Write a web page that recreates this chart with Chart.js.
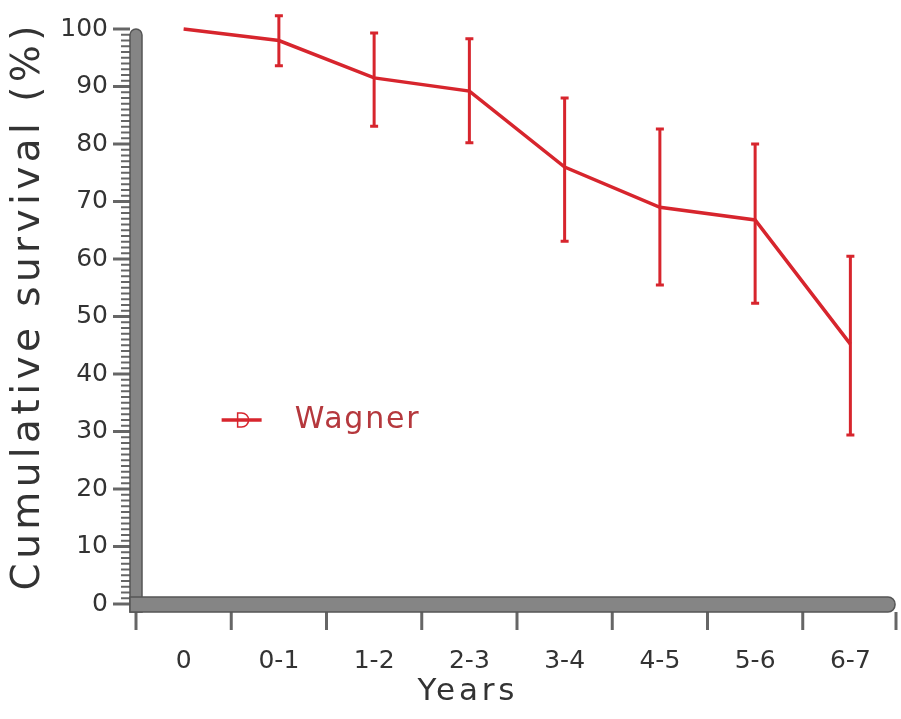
<!DOCTYPE html>
<html>
<head>
<meta charset="utf-8">
<script src="https://cdn.jsdelivr.net/npm/chart.js@4.4.1/dist/chart.umd.min.js"></script>
<style>
  html, body { margin: 0; padding: 0; background: #fff; }
  #wrap { width: 901px; height: 719px; }
</style>
</head>
<body>
<div id="wrap"><canvas id="survivalChart" width="901" height="719"></canvas></div>
<script>
// values
const years = ['0', '0-1', '1-2', '2-3', '3-4', '4-5', '5-6', '6-7'];
const survival = [100, 98, 91.5, 89.2, 76, 69, 66.8, 45.2];
const errLow = [100, 93.6, 83.1, 80.2, 63.1, 55.5, 52.3, 29.4];
const errHigh = [100, 102.3, 99.3, 98.3, 88, 82.6, 80, 60.5];
const seriesName = 'Wagner';
const yTitle = 'Cumulative survival (%)';
const xTitle = 'Years';

const RED = '#d7252d';
const AXIS_GRAY = '#858585';
const AXIS_DARK = '#555';
const TEXT = '#333';
const FONT = "'DejaVu Sans', sans-serif";

// draws text with letter spacing so it fills a given length
function spacedText(ctx, text, cx, cy, len) {
    ctx.letterSpacing = '0px';
    const w = ctx.measureText(text).width;
    const sp = Math.max(0, (len - w) / (text.length - 1));
    ctx.letterSpacing = sp + 'px';
    ctx.textAlign = 'left';
    ctx.textBaseline = 'middle';
    ctx.fillText(text, cx - len / 2, cy);
    ctx.letterSpacing = '0px';
}

// error bars, axis bars, ticks, titles and in-plot legend
const decorPlugin = {
    id: 'decor',
    beforeDatasetsDraw(chart) {
        const { ctx, chartArea: a, scales: { x, y } } = chart;
        ctx.save();
        // minor / major y ticks
        ctx.strokeStyle = '#666';
        for (let v = 0; v <= 100; v++) {
            const py = y.getPixelForValue(v);
            ctx.lineWidth = v % 10 === 0 ? 3 : 2;
            ctx.beginPath();
            ctx.moveTo(v % 10 === 0 ? a.left - 23 : a.left - 15, py);
            ctx.lineTo(a.left - 6, py);
            ctx.stroke();
        }
        // x ticks at category boundaries
        ctx.lineWidth = 3;
        const step = (a.right - a.left) / years.length;
        for (let i = 0; i <= years.length; i++) {
            const px = Math.min(a.left + i * step, a.right - 2);
            ctx.beginPath();
            ctx.moveTo(px, a.bottom + 8);
            ctx.lineTo(px, a.bottom + 26);
            ctx.stroke();
        }
        // thick axis bars
        ctx.fillStyle = AXIS_GRAY;
        ctx.strokeStyle = AXIS_DARK;
        ctx.lineWidth = 1.5;
        ctx.beginPath();
        ctx.roundRect(a.left - 6, a.top, 12, a.bottom - a.top + 8, [6, 6, 0, 0]);
        ctx.fill();
        ctx.stroke();
        ctx.beginPath();
        ctx.roundRect(a.left - 6, a.bottom - 7, a.right - a.left + 3, 15, [0, 7, 7, 0]);
        ctx.fill();
        ctx.stroke();

        // axis titles
        ctx.fillStyle = TEXT;
        ctx.font = '31px ' + FONT;
        spacedText(ctx, xTitle, 466, 692, 97);
        ctx.save();
        ctx.translate(29, 308);
        ctx.rotate(-Math.PI / 2);
        ctx.font = '39px ' + FONT;
        spacedText(ctx, yTitle, 0, 0, 565);
        ctx.restore();
        ctx.restore();
    },
    afterDatasetsDraw(chart) {
        const { ctx, scales: { x, y } } = chart;
        ctx.save();
        ctx.strokeStyle = RED;
        ctx.lineWidth = 3;
        years.forEach((lab, i) => {
            if (errHigh[i] === errLow[i]) return;
            const px = x.getPixelForValue(i);
            const top = y.getPixelForValue(errHigh[i]);
            const bot = y.getPixelForValue(errLow[i]);
            ctx.beginPath();
            ctx.moveTo(px, top);
            ctx.lineTo(px, bot);
            ctx.moveTo(px - 4, top);
            ctx.lineTo(px + 4, top);
            ctx.moveTo(px - 4, bot);
            ctx.lineTo(px + 4, bot);
            ctx.stroke();
        });
        // legend inside plot
        const ly = y.getPixelForValue(32);
        const lx = x.getPixelForValue(0) + 38;
        ctx.lineWidth = 3.5;
        ctx.beginPath();
        ctx.moveTo(lx, ly);
        ctx.lineTo(lx + 40, ly);
        ctx.stroke();
        ctx.lineWidth = 1.5;
        ctx.beginPath();
        ctx.moveTo(lx + 16, ly - 7);
        ctx.lineTo(lx + 20, ly - 7);
        ctx.arc(lx + 20, ly, 7, -Math.PI / 2, Math.PI / 2);
        ctx.lineTo(lx + 16, ly + 7);
        ctx.closePath();
        ctx.stroke();
        ctx.fillStyle = '#b5383d';
        ctx.font = '30px ' + FONT;
        spacedText(ctx, seriesName, lx + 73 + 62, ly, 124);
        ctx.restore();
    }
};

new Chart(document.getElementById('survivalChart'), {
    type: 'line',
    data: {
        labels: years,
        datasets: [{
            label: seriesName,
            data: survival,
            borderColor: RED,
            borderWidth: 3.5,
            pointRadius: 0,
            tension: 0,
            fill: false,
            clip: false
        }]
    },
    options: {
        responsive: false,
        animation: false,
        layout: { padding: { top: 29, right: 3, left: 0, bottom: 0 } },
        plugins: { legend: { display: false }, tooltip: { enabled: false } },
        scales: {
            x: {
                offset: true,
                grid: { display: false, drawTicks: false },
                border: { display: false },
                ticks: { color: TEXT, font: { family: FONT, size: 25 }, padding: 42, maxRotation: 0 },
                afterFit(s) { s.height = 115; s.paddingLeft = 0; s.paddingRight = 0; }
            },
            y: {
                min: 0,
                max: 100,
                ticks: { stepSize: 10, color: TEXT, font: { family: FONT, size: 25 }, padding: 28 },
                grid: { display: false, drawTicks: false },
                border: { display: false },
                afterFit(s) { s.width = 136; s.paddingTop = 0; s.paddingBottom = 0; }
            }
        }
    },
    plugins: [decorPlugin]
});
</script>
</body>
</html>
